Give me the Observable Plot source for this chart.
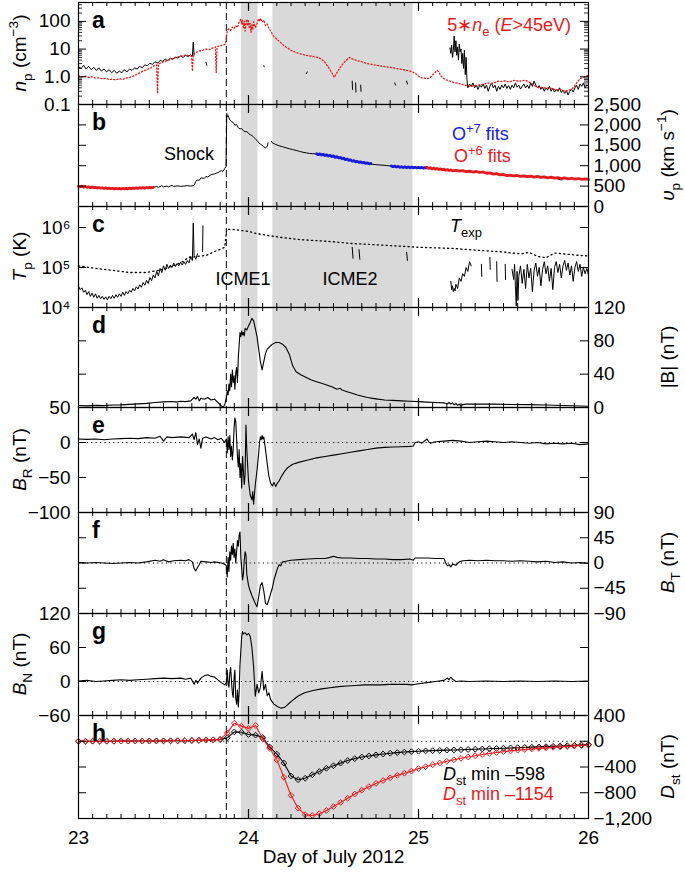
<!DOCTYPE html>
<html><head><meta charset="utf-8">
<script src="https://cdn.jsdelivr.net/npm/d3@7"></script>
<script src="https://cdn.jsdelivr.net/npm/@observablehq/plot@0.6"></script>
<style>
body{margin:0;background:#fff;}
#chart{width:685px;padding-top:2px;}
#chart svg{display:block;overflow:visible;}
</style></head><body><div id="chart"></div>
<script>
const FONT = "'Liberation Sans', Arial, Helvetica, sans-serif";
const RED = "#e8191c", BLUE = "#1a1adc";

// ---------- shared x info ----------
const xLabels = [23, 24, 25, 26];
const xTitle = "Day of July 2012";
const shades = [{a: 23.958, b: 24.056}, {a: 24.143, b: 24.968}];
const shockDay = [23.870];

// ---------- panel a: density ----------
const npBlack = [[23.00,2.3],[23.015,2.0],[23.03,2.6],[23.045,1.9],[23.06,2.4],[23.075,1.8],[23.09,2.2],[23.105,1.7],[23.12,2.1],[23.135,1.6],[23.15,1.9],[23.165,1.5],[23.18,1.8],[23.195,1.4],[23.21,1.7],[23.225,1.35],[23.24,1.6],[23.255,1.4],[23.27,1.8],[23.285,1.5],[23.30,1.9],[23.315,1.7],[23.33,2.1],[23.345,1.9],[23.36,2.4],[23.375,2.1],[23.39,2.7],[23.405,2.5],[23.42,3.1],[23.435,2.8],[23.45,3.5],[23.465,3.1],[23.48,3.9],[23.495,3.6],[23.51,4.3],[23.525,3.9],[23.54,4.7],[23.555,4.3],[23.57,5.1],[23.585,4.7],[23.60,5.6],[23.615,5.0],[23.63,5.9],[23.645,5.4],[23.66,6.2],[23.67,5.6],[23.675,18],[23.68,6.0],[23.69,NaN],
[23.75,3.3],[23.755,2.6],[23.76,NaN],[24.09,2.5],[24.092,2.3],[24.095,NaN],[24.34,1.3],[24.345,1.5],[24.35,NaN],
[24.61,0.7],[24.612,0.35],[24.615,NaN],[24.63,0.6],[24.632,0.28],[24.635,NaN],[24.66,0.5],[24.662,0.3],[24.665,NaN],
[24.86,0.6],[24.865,0.5],[24.87,NaN],[24.93,0.7],[24.935,0.55],[24.94,NaN],
[25.185,11],[25.19,7],[25.195,14],[25.20,5],[25.205,9],[25.21,30],[25.215,8],[25.22,20],[25.225,6],[25.23,12],[25.235,4],[25.24,15],[25.245,8],[25.25,10],[25.255,3],[25.26,7],[25.265,2],[25.27,9],[25.275,1.2],[25.28,5],[25.285,0.8],[25.29,0.4],[25.30,0.55],[25.31,0.45],[25.32,0.6],[25.33,0.4],[25.34,0.5],[25.35,0.35],[25.36,0.5],[25.37,0.42],[25.38,0.55],[25.39,0.38],[25.40,0.5],[25.41,0.3],[25.42,0.45],[25.43,0.6],[25.44,0.4],[25.45,0.5],[25.46,0.3],[25.47,0.45],[25.48,0.35],[25.49,0.5],[25.50,0.4],[25.51,0.55],[25.52,0.38],[25.53,0.48],[25.54,0.35],[25.55,0.5],[25.56,0.4],[25.57,0.6],[25.58,0.42],[25.59,0.5],[25.60,0.36],[25.61,0.45],[25.62,0.55],[25.63,0.4],[25.64,0.5],[25.65,0.38],[25.66,0.6],[25.67,0.45],[25.68,0.7],[25.69,0.5],[25.70,0.4],[25.71,0.48],[25.72,0.35],[25.73,0.42],[25.74,0.3],[25.75,0.4],[25.76,0.33],[25.77,0.45],[25.78,0.3],[25.79,0.38],[25.80,0.28],[25.81,0.35],[25.82,0.3],[25.83,0.4],[25.84,0.27],[25.85,0.33],[25.86,0.25],[25.87,0.32],[25.88,0.22],[25.89,0.3],[25.90,0.35],[25.91,0.28],[25.92,0.4],[25.93,0.5],[25.94,0.35],[25.95,0.55],[25.96,0.45],[25.97,0.6],[25.98,0.4],[25.99,0.5],[26.00,0.45]];
const neRed = [[23.00,1.1],[23.02,1.0],[23.04,1.05],[23.06,0.95],[23.08,1.0],[23.10,0.9],[23.12,0.92],[23.14,0.85],[23.16,0.88],[23.18,0.8],[23.20,0.82],[23.22,0.78],[23.24,0.85],[23.26,0.8],[23.28,0.9],[23.30,0.95],[23.32,1.05],[23.34,1.2],[23.36,1.4],[23.38,1.6],[23.40,1.8],[23.42,2.0],[23.44,2.4],[23.46,2.7],[23.465,0.25],[23.47,2.9],[23.49,3.3],[23.51,3.6],[23.53,4.0],[23.55,4.4],[23.57,4.9],[23.59,5.3],[23.61,5.7],[23.63,6.0],[23.65,5.8],[23.665,5.5],[23.67,1.6],[23.675,6.5],[23.69,7.5],[23.71,8.5],[23.73,9.0],[23.75,10],[23.77,9.5],[23.79,11],[23.805,12],[23.81,1.4],[23.815,12],[23.83,13],[23.85,14],[23.865,15],[23.875,45],[23.885,55],[23.895,48],[23.905,62],[23.915,55],[23.925,70],[23.935,60],[23.945,95],[23.955,120],[23.96,80],[23.965,110],[23.97,60],[23.975,100],[23.98,45],[23.985,90],[23.99,120],[23.995,70],[24.00,105],[24.005,55],[24.01,85],[24.015,40],[24.02,75],[24.025,50],[24.03,95],[24.04,60],[24.05,85],[24.06,125],[24.065,100],[24.07,130],[24.08,95],[24.09,110],[24.10,70],[24.11,80],[24.12,55],[24.13,45],[24.14,35],[24.15,28],[24.17,22],[24.19,17],[24.21,13],[24.23,11],[24.25,9],[24.27,8],[24.29,7.2],[24.31,6.6],[24.33,6.2],[24.35,5.8],[24.37,5.6],[24.39,5.2],[24.41,5.0],[24.43,4.3],[24.45,3.3],[24.47,2.2],[24.49,1.4],[24.505,0.95],[24.52,1.4],[24.54,2.2],[24.56,3.2],[24.58,4.2],[24.595,5.0],[24.61,4.4],[24.63,4.0],[24.65,3.7],[24.67,3.4],[24.69,3.1],[24.71,2.9],[24.73,2.8],[24.75,2.6],[24.77,2.5],[24.79,2.4],[24.81,2.3],[24.83,2.2],[24.85,2.1],[24.87,2.0],[24.89,1.9],[24.91,1.8],[24.93,1.7],[24.95,1.6],[24.97,1.45],[24.99,1.2],[25.01,0.95],[25.03,0.9],[25.05,0.85],[25.07,0.95],[25.09,1.3],[25.11,1.7],[25.12,1.5],[25.13,1.1],[25.15,0.85],[25.17,0.75],[25.19,0.68],[25.21,0.62],[25.23,0.58],[25.25,0.55],[25.27,0.5],[25.29,0.48],[25.31,0.45],[25.33,0.48],[25.35,0.5],[25.37,0.52],[25.39,0.55],[25.41,0.6],[25.43,0.58],[25.45,0.62],[25.47,0.7],[25.49,0.68],[25.51,0.72],[25.53,0.65],[25.55,0.7],[25.57,0.75],[25.59,0.68],[25.61,0.72],[25.63,0.75],[25.65,0.65],[25.67,0.55],[25.69,0.45],[25.71,0.4],[25.73,0.42],[25.75,0.38],[25.77,0.4],[25.79,0.36],[25.81,0.34],[25.83,0.35],[25.85,0.32],[25.87,0.3],[25.89,0.34],[25.91,0.4],[25.93,0.6],[25.95,0.85],[25.97,0.95],[26.00,1.15]];
const aTicks = [0.1, 1, 10, 100];
const aTickText = ["0.1", "1.0", "10", "100"];
const aMinor = [0.2,0.3,0.4,0.5,0.6,0.7,0.8,0.9,2,3,4,5,6,7,8,9,20,30,40,50,60,70,80,90,200,300,400];

// ---------- panel b: speed ----------
const vpBlack = [[23.00,490],[23.05,470],[23.10,460],[23.15,445],[23.20,440],[23.25,432],[23.30,440],[23.35,450],[23.40,462],[23.44,470],[23.46,490],[23.47,470],[23.49,510],[23.50,480],[23.52,500],[23.53,480],[23.55,520],[23.56,490],[23.58,505],[23.60,495],[23.62,500],[23.64,510],[23.66,500],[23.68,520],[23.69,620],[23.70,650],[23.71,640],[23.72,700],[23.74,690],[23.75,740],[23.76,720],[23.78,780],[23.80,800],[23.82,830],[23.84,880],[23.85,860],[23.86,930],[23.868,980],[23.872,2280],[23.875,2200],[23.88,2230],[23.89,2120],[23.90,2080],[23.91,2060],[23.92,1990],[23.93,2010],[23.94,1930],[23.95,1900],[23.96,1910],[23.97,1860],[23.98,1830],[23.99,1840],[24.00,1790],[24.01,1760],[24.02,1740],[24.03,1700],[24.04,1660],[24.05,1620],[24.06,1560],[24.07,1530],[24.08,1500],[24.09,1460],[24.10,1440],[24.11,1470],[24.115,1560],[24.12,NaN],[24.135,1600],[24.14,1560],[24.16,1520],[24.18,1490],[24.20,1465],[24.22,1440],[24.24,1415],[24.26,1395],[24.28,1375],[24.30,1350],[24.32,1330],[24.34,1315],[24.36,1300],[24.38,1295],[24.40,1285],[24.45,1255],[24.50,1225],[24.55,1175],[24.60,1130],[24.65,1090],[24.70,1055],[24.72,1040],[24.75,1025],[24.78,1015],[24.81,1005],[24.84,990],[24.90,965],[24.95,955],[25.00,950],[25.05,945],[25.10,915],[25.15,900],[25.20,880],[25.25,860],[25.30,850],[25.35,840],[25.40,825],[25.45,790],[25.50,765],[25.55,750],[25.60,740],[25.65,730],[25.70,720],[25.75,705],[25.80,700],[25.84,650],[25.85,690],[25.90,685],[25.95,670],[26.00,662]];
const o6Fits = [[23.00,495],[23.01,480],[23.02,500],[23.03,475],[23.04,490],[23.05,470],[23.06,485],[23.07,462],[23.08,478],[23.09,458],[23.10,470],[23.11,452],[23.12,466],[23.13,448],[23.14,460],[23.15,442],[23.16,456],[23.17,440],[23.18,452],[23.19,436],[23.20,448],[23.21,432],[23.22,446],[23.23,430],[23.24,444],[23.25,428],[23.26,442],[23.27,430],[23.28,446],[23.29,434],[23.30,450],[23.31,438],[23.32,452],[23.33,442],[23.34,456],[23.35,446],[23.36,460],[23.37,450],[23.38,462],[23.39,452],[23.40,466],[23.41,455],[23.42,468],[23.43,458],[23.44,470],[23.445,NaN],
[25.05,960],[25.06,935],[25.07,950],[25.08,925],[25.09,940],[25.10,915],[25.11,932],[25.12,905],[25.13,922],[25.14,898],[25.15,915],[25.16,890],[25.17,905],[25.18,882],[25.19,898],[25.20,875],[25.22,888],[25.24,865],[25.26,878],[25.28,855],[25.30,868],[25.32,845],[25.34,858],[25.36,835],[25.38,845],[25.40,815],[25.42,825],[25.44,795],[25.46,805],[25.48,775],[25.50,785],[25.52,758],[25.54,770],[25.56,748],[25.58,760],[25.60,738],[25.62,752],[25.64,730],[25.66,745],[25.68,722],[25.70,738],[25.72,712],[25.74,726],[25.76,702],[25.78,718],[25.80,695],[25.82,708],[25.84,686],[25.86,700],[25.88,678],[25.90,692],[25.92,670],[25.94,686],[25.96,666],[25.98,678],[26.00,664]];
const o7Fits = [[24.40,1295],[24.41,1270],[24.42,1290],[24.43,1262],[24.44,1280],[24.45,1250],[24.46,1268],[24.47,1238],[24.48,1255],[24.49,1222],[24.50,1240],[24.51,1205],[24.52,1222],[24.53,1188],[24.54,1205],[24.55,1170],[24.56,1185],[24.57,1150],[24.58,1165],[24.59,1130],[24.60,1145],[24.61,1110],[24.62,1125],[24.63,1095],[24.64,1108],[24.65,1080],[24.66,1095],[24.67,1068],[24.68,1080],[24.69,1055],[24.70,1068],[24.71,1045],[24.72,1055],[24.725,NaN],[24.84,995],[24.85,975],[24.86,990],[24.87,968],[24.88,982],[24.89,960],[24.90,975],[24.91,955],[24.92,972],[24.93,952],[24.94,968],[24.95,950],[24.96,966],[24.97,948],[24.98,962],[24.99,945],[25.00,960],[25.01,942],[25.02,958],[25.03,940],[25.04,955],[25.05,945]];
const bTicks = [0, 500, 1000, 1500, 2000, 2500];

// ---------- panel c: temperature ----------
const tpBlack = [[23.00,34000],[23.01,28000],[23.02,31000],[23.03,24000],[23.04,27000],[23.05,21000],[23.06,25000],[23.07,19000],[23.08,23000],[23.09,18000],[23.10,22000],[23.11,17000],[23.12,20000],[23.13,16500],[23.14,19000],[23.15,16000],[23.16,18500],[23.17,15500],[23.18,19000],[23.19,16500],[23.20,20000],[23.21,17000],[23.22,21000],[23.23,18000],[23.24,22000],[23.25,19000],[23.26,24000],[23.27,20000],[23.28,25000],[23.29,22000],[23.30,27000],[23.31,24000],[23.32,30000],[23.33,26000],[23.34,33000],[23.35,29000],[23.36,37000],[23.37,32000],[23.38,42000],[23.39,36000],[23.40,48000],[23.41,40000],[23.42,56000],[23.43,47000],[23.44,65000],[23.45,55000],[23.46,80000],[23.47,62000],[23.48,95000],[23.49,75000],[23.50,110000],[23.51,85000],[23.52,120000],[23.53,95000],[23.54,115000],[23.55,100000],[23.56,130000],[23.57,105000],[23.58,125000],[23.59,110000],[23.60,135000],[23.61,115000],[23.62,140000],[23.63,120000],[23.64,150000],[23.65,130000],[23.66,190000],[23.67,150000],[23.675,1300000],[23.68,200000],[23.69,160000],[23.70,220000],[23.705,NaN],[23.73,250000],[23.732,1100000],[23.735,NaN],
[24.61,320000],[24.615,170000],[24.62,NaN],[24.65,280000],[24.655,160000],[24.66,NaN],[24.93,240000],[24.935,150000],[24.94,NaN],
[25.19,45000],[25.195,28000],[25.20,35000],[25.205,25000],[25.21,30000],[25.215,26000],[25.22,38000],[25.23,30000],[25.24,55000],[25.25,45000],[25.26,70000],[25.27,60000],[25.28,100000],[25.29,80000],[25.30,140000],[25.31,110000],[25.315,NaN],
[25.37,120000],[25.372,60000],[25.375,NaN],[25.42,180000],[25.422,90000],[25.425,NaN],[25.46,140000],[25.462,45000],[25.465,NaN],[25.51,120000],[25.512,50000],[25.515,NaN],
[25.55,90000],[25.56,50000],[25.565,120000],[25.57,35000],[25.575,11000],[25.58,80000],[25.585,15000],[25.59,60000],[25.60,110000],[25.61,40000],[25.62,90000],[25.63,30000],[25.64,120000],[25.65,55000],[25.66,95000],[25.67,25000],[25.68,85000],[25.69,130000],[25.70,60000],[25.71,100000],[25.72,35000],[25.73,90000],[25.74,140000],[25.75,70000],[25.76,110000],[25.77,45000],[25.78,95000],[25.79,28000],[25.80,100000],[25.81,140000],[25.82,75000],[25.83,120000],[25.84,55000],[25.85,110000],[25.86,150000],[25.87,85000],[25.88,130000],[25.89,65000],[25.90,110000],[25.91,45000],[25.92,100000],[25.93,140000],[25.94,80000],[25.95,120000],[25.96,60000],[25.97,100000],[25.98,70000],[25.99,95000],[26.00,65000]];
const tExp = [[23.00,110000],[23.10,95000],[23.20,85000],[23.30,75000],[23.40,75000],[23.50,90000],[23.60,130000],[23.65,180000],[23.70,190000],[23.75,200000],[23.80,250000],[23.86,320000],[23.872,900000],[23.90,900000],[23.95,850000],[24.00,800000],[24.05,700000],[24.10,650000],[24.15,600000],[24.20,560000],[24.30,500000],[24.40,470000],[24.50,440000],[24.60,400000],[24.70,380000],[24.80,360000],[24.90,340000],[25.00,320000],[25.10,310000],[25.20,300000],[25.30,280000],[25.40,260000],[25.50,245000],[25.55,230000],[25.60,220000],[25.65,240000],[25.70,190000],[25.75,175000],[25.80,230000],[25.85,220000],[25.90,210000],[25.95,200000],[26.00,195000]];
const cTicks = [1e4, 1e5, 1e6];
const cTickText = ["10\u2074", "10\u2075", "10\u2076"];

// ---------- panel d: |B| ----------
const bMag = [[23.00,2.4],[23.05,2.0],[23.10,2.5],[23.15,2.2],[23.20,3.0],[23.25,3.2],[23.30,3.8],[23.35,4.4],[23.40,5.0],[23.45,6.0],[23.50,6.8],[23.55,7.2],[23.58,6.5],[23.60,7.5],[23.63,7.0],[23.66,8.0],[23.68,12],[23.69,10],[23.70,13],[23.71,8],[23.72,11],[23.74,10],[23.76,12],[23.78,9],[23.80,10],[23.82,6],[23.84,2],[23.85,0.5],[23.86,3],[23.87,12],[23.875,20],[23.88,15],[23.885,28],[23.89,20],[23.895,40],[23.90,25],[23.905,45],[23.91,30],[23.915,38],[23.92,22],[23.925,42],[23.93,48],[23.935,30],[23.94,60],[23.945,75],[23.95,90],[23.955,85],[23.96,92],[23.965,87],[23.97,90],[23.975,86],[23.98,95],[23.99,93],[24.00,98],[24.01,102],[24.02,107],[24.03,104],[24.04,95],[24.05,85],[24.06,70],[24.07,55],[24.08,45],[24.09,55],[24.10,65],[24.11,70],[24.12,72],[24.14,76],[24.16,78],[24.18,78],[24.20,76],[24.22,72],[24.24,64],[24.26,50],[24.28,43],[24.31,39],[24.34,36],[24.37,33],[24.40,31],[24.43,29],[24.46,27],[24.49,25],[24.52,22],[24.54,23],[24.55,21],[24.58,19],[24.61,17],[24.64,15],[24.67,13.5],[24.70,12],[24.73,11],[24.76,10],[24.80,9],[24.85,8.5],[24.90,8],[24.95,7.5],[25.00,7],[25.05,6.5],[25.10,6],[25.15,5.5],[25.17,4.5],[25.18,6],[25.19,4],[25.20,5.5],[25.21,3],[25.22,5],[25.23,2.5],[25.24,4],[25.25,1.5],[25.26,3.5],[25.28,4],[25.35,4.2],[25.45,4.0],[25.55,3.6],[25.65,3.4],[25.75,3.0],[25.85,2.4],[25.95,1.8],[26.00,1.5]];
const dTicks = [0, 40, 80, 120];

// ---------- panel e: B_R ----------
const bR = [[23.00,5],[23.05,4.5],[23.10,5],[23.15,4],[23.20,5],[23.25,5.5],[23.30,6],[23.35,5.5],[23.40,7],[23.45,6],[23.48,9],[23.50,2],[23.52,8],[23.55,7],[23.60,8],[23.65,7],[23.67,12],[23.68,4],[23.69,14],[23.70,-3],[23.71,5],[23.72,-8],[23.73,6],[23.75,8],[23.78,5],[23.80,7],[23.82,4],[23.84,6],[23.86,0],[23.87,5],[23.875,-15],[23.88,8],[23.885,-10],[23.89,10],[23.895,-20],[23.90,-5],[23.905,-25],[23.91,-10],[23.915,20],[23.92,35],[23.925,30],[23.93,5],[23.935,-20],[23.94,-35],[23.945,-10],[23.95,-50],[23.955,-30],[23.96,-65],[23.965,-20],[23.97,-40],[23.975,-60],[23.98,-45],[23.985,25],[23.99,-10],[24.00,-55],[24.01,-75],[24.02,-82],[24.025,-70],[24.03,-88],[24.04,-60],[24.05,-40],[24.06,-15],[24.065,0],[24.07,8],[24.075,4],[24.08,10],[24.085,5],[24.09,8],[24.10,-10],[24.11,-30],[24.12,-48],[24.13,-58],[24.14,-62],[24.15,-57],[24.16,-63],[24.17,-58],[24.18,-55],[24.19,-50],[24.21,-42],[24.23,-36],[24.26,-31],[24.30,-28],[24.35,-25],[24.40,-22],[24.45,-20],[24.50,-18],[24.55,-16],[24.60,-14],[24.65,-12],[24.70,-10],[24.75,-8],[24.80,-7],[24.85,-6.5],[24.90,-6],[24.95,-5.5],[24.97,-5],[24.98,0],[25.00,1],[25.02,-1],[25.05,5],[25.06,1],[25.07,-1],[25.10,1],[25.15,2],[25.20,3],[25.25,2],[25.30,0],[25.35,1],[25.40,2],[25.45,1],[25.50,0],[25.55,1],[25.60,0],[25.65,-1],[25.70,0],[25.75,-2],[25.80,-1],[25.85,-2],[25.90,-1],[25.95,-3],[26.00,-2]];
const eTicks = [-100, -50, 0, 50];

// ---------- panel f: B_T ----------
const bT = [[23.00,1],[23.05,0],[23.10,1],[23.15,0],[23.20,-1],[23.25,0],[23.30,1],[23.35,0],[23.40,2],[23.45,5],[23.48,3],[23.50,6],[23.53,2],[23.56,4],[23.60,5],[23.63,4],[23.65,6],[23.67,2],[23.68,-10],[23.69,-14],[23.70,-8],[23.71,-3],[23.72,3],[23.75,2],[23.78,1],[23.80,2],[23.84,0],[23.86,-2],[23.87,-5],[23.875,-25],[23.88,10],[23.885,-15],[23.89,20],[23.895,5],[23.90,30],[23.905,15],[23.91,35],[23.915,10],[23.92,25],[23.925,0],[23.93,20],[23.935,40],[23.94,30],[23.945,50],[23.95,55],[23.955,10],[23.96,-10],[23.965,-30],[23.97,-20],[23.975,5],[23.98,20],[23.985,15],[23.99,-20],[24.00,-40],[24.01,-50],[24.02,-58],[24.03,-65],[24.04,-72],[24.05,-78],[24.06,-60],[24.07,-40],[24.08,-35],[24.09,-50],[24.10,-72],[24.11,-74],[24.12,-65],[24.13,-55],[24.14,-45],[24.15,-30],[24.16,-20],[24.17,-10],[24.18,-3],[24.19,-5],[24.20,2],[24.22,3],[24.25,5],[24.30,6],[24.35,7],[24.40,8],[24.45,8],[24.48,10],[24.50,12],[24.52,10],[24.55,9],[24.60,9],[24.65,8],[24.70,8],[24.75,7],[24.80,7],[24.85,6],[24.90,6],[24.95,7],[24.97,5],[24.98,9],[25.00,9],[25.05,9],[25.10,8],[25.15,8],[25.16,0],[25.17,-5],[25.18,-3],[25.19,-7],[25.20,-2],[25.22,-4],[25.24,2],[25.26,4],[25.30,5],[25.35,4],[25.40,5],[25.45,4],[25.50,4],[25.55,3],[25.60,4],[25.65,3],[25.70,2],[25.75,3],[25.80,1],[25.85,2],[25.90,0],[25.95,1],[26.00,-1]];
const fTicks = [-90, -45, 0, 45, 90];

// ---------- panel g: B_N ----------
const bN = [[23.00,1],[23.05,2],[23.10,0],[23.15,1],[23.20,2],[23.25,3],[23.30,2],[23.35,3],[23.40,4],[23.45,5],[23.50,6],[23.55,5],[23.60,6],[23.63,4],[23.66,6],[23.68,-5],[23.69,2],[23.70,-3],[23.72,6],[23.74,10],[23.76,12],[23.78,9],[23.80,8],[23.82,3],[23.84,-2],[23.86,-6],[23.87,-2],[23.875,20],[23.88,-5],[23.885,-10],[23.89,15],[23.895,25],[23.90,0],[23.905,-20],[23.91,-28],[23.915,5],[23.92,20],[23.925,-30],[23.93,-40],[23.935,-15],[23.94,-45],[23.945,-20],[23.95,30],[23.96,79],[23.965,88],[23.97,84],[23.98,86],[23.99,82],[24.00,85],[24.01,80],[24.02,60],[24.03,26],[24.04,-26],[24.05,-5],[24.06,-20],[24.07,-10],[24.08,18],[24.09,-15],[24.10,-5],[24.11,-25],[24.12,-20],[24.13,-32],[24.15,-40],[24.17,-44],[24.19,-47],[24.21,-46],[24.23,-41],[24.26,-33],[24.29,-26],[24.33,-20],[24.38,-16],[24.43,-13],[24.48,-11],[24.53,-9],[24.58,-8],[24.63,-7],[24.68,-6],[24.73,-6],[24.78,-6],[24.83,-5],[24.88,-5],[24.93,-5],[24.96,-6],[25.00,-4],[25.05,-2],[25.10,0],[25.15,2],[25.17,6],[25.18,3],[25.19,8],[25.20,4],[25.22,0],[25.25,1],[25.30,0],[25.40,1],[25.50,0],[25.60,1],[25.70,0],[25.80,1],[25.90,0],[26.00,1]];
const gTicks = [-60, 0, 60, 120];

// ---------- panel h: Dst (hourly, from 23 July 00 UT) ----------
const dstBlack = [0,0,1,0,1,1,2,2,3,3,4,5,6,7,8,10,12,15,18,22,28,55,145,140,105,95,60,-90,-200,-340,-540,-598,-575,-520,-470,-420,-380,-340,-300,-270,-245,-228,-212,-198,-186,-176,-168,-161,-155,-150,-146,-142,-138,-135,-132,-128,-124,-120,-116,-112,-108,-104,-100,-96,-92,-88,-84,-79,-74,-69,-63,-57,-52];
const dstRed = [0,0,1,0,1,1,2,2,3,3,4,5,6,7,8,10,12,15,18,22,28,130,280,235,200,245,40,-110,-290,-560,-840,-1040,-1140,-1154,-1125,-1075,-1015,-950,-885,-820,-760,-705,-655,-610,-568,-530,-496,-464,-425,-395,-365,-338,-312,-288,-265,-244,-225,-207,-191,-176,-162,-150,-139,-129,-120,-111,-103,-95,-88,-81,-74,-67,-60];
const hTicks = [-1200, -800, -400, 0, 400];

// ---------- helpers ----------
const W = 510;
const X_MINOR = d3.range(1, 36).filter(k => k % 12 !== 0).map(k => 23 + k / 12);
const X_MAJOR = [24, 25];
const fmtComma = d3.format(",");
const toRows = arr => arr.map(([d, v]) => ({d, v}));

function rich(svg, x, y, parts, o = {}) {
  const size = o.size || 18;
  const t = d3.select(svg).append("text")
    .attr("transform", `translate(${x},${y})` + (o.rotate ? ` rotate(${o.rotate})` : ""))
    .attr("text-anchor", o.anchor || "start")
    .attr("font-family", FONT).attr("font-size", size)
    .attr("font-weight", o.weight || "normal")
    .attr("fill", o.fill || "black")
    .style("white-space", "pre");
  let cur = 0;
  for (const [s, st = ""] of parts) {
    const ts = t.append("tspan").text(s);
    let target = 0, fs = size;
    if (st.includes("_")) { target = 0.3 * size; fs = 0.72 * size; }
    if (st.includes("^")) { target = -0.4 * size; fs = 0.72 * size; }
    if (target !== cur) ts.attr("dy", target - cur);
    cur = target;
    if (fs !== size) ts.attr("font-size", fs);
    if (st.includes("i")) ts.attr("font-style", "italic");
  }
}

function panel(p) {
  const mb = p.bottom ? 55 : 0;
  const h = p.h;
  const marks = [
    Plot.rect(shades, {x1: "a", x2: "b", fill: "#d9d9d9"}),
    ...(p.zero ? [Plot.ruleY([0], {stroke: "black", strokeWidth: 1, strokeDasharray: "1.2,3.2"})] : []),
    Plot.ruleX(shockDay, {x: d => d, stroke: "#333", strokeWidth: 1.2, strokeDasharray: "7,4"}),
    ...p.marks,
    Plot.frame({stroke: "black", strokeWidth: 1.2}),
    Plot.tickX(X_MINOR, {x: d => d, insetTop: h - 4, strokeWidth: 1}),
    Plot.tickX(X_MINOR, {x: d => d, insetBottom: h - 4, strokeWidth: 1}),
    Plot.tickX(X_MAJOR, {x: d => d, insetTop: h - 9, strokeWidth: 1.2}),
    Plot.tickX(X_MAJOR, {x: d => d, insetBottom: h - 9, strokeWidth: 1.2}),
    Plot.tickY(p.inner, {y: d => d, insetRight: W - 8, strokeWidth: 1}),
    Plot.tickY(p.inner, {y: d => d, insetLeft: W - 8, strokeWidth: 1}),
    ...(p.minor ? [Plot.tickY(p.minor, {y: d => d, insetRight: W - 4, strokeWidth: 0.8}),
                   Plot.tickY(p.minor, {y: d => d, insetLeft: W - 4, strokeWidth: 0.8})] : []),
    Plot.axisY(p.labels, {anchor: p.side, tickSize: 0, tickPadding: p.side === "left" ? 8 : 5, tickFormat: p.fmt, label: null})
  ];
  if (p.bottom) {
    marks.push(Plot.axisX(xLabels, {anchor: "bottom", tickSize: 0, tickPadding: 12, tickFormat: d => String(d), label: null}));
    marks.push(Plot.text([xTitle], {text: d => d, frameAnchor: "bottom", dy: 44, fontSize: 19, textAnchor: "middle"}));
  }
  const svg = Plot.plot({
    width: 685, height: h + mb,
    marginLeft: 78, marginRight: 97, marginTop: 0, marginBottom: mb,
    x: {domain: [23, 26], ...(p.bottom ? {} : {axis: null})},
    y: p.y,
    style: {fontFamily: FONT, fontSize: "19px", overflow: "visible", background: "transparent", color: "black"},
    marks
  });
  document.getElementById("chart").appendChild(svg);
  rich(svg, 92, 26, [[p.letter]], {size: 23, weight: "bold"});
  const tx = p.side === "left" ? 26 : 674;
  rich(svg, tx, h / 2, p.title, {size: 19, rotate: -90, anchor: "middle"});
  return svg;
}

const line = (arr, o) => Plot.line(toRows(arr), {x: "d", y: "v", ...o});

// a
const sa = panel({letter: "a", h: 102, y: {type: "log", domain: [0.1, 480]}, side: "left",
  labels: aTicks, fmt: d => aTickText[aTicks.indexOf(d)], inner: [1, 10, 100], minor: aMinor,
  title: [["n", "i"], ["p", "_"], [" (cm"], ["\u22123", "^"], [")"]],
  marks: [
    line(npBlack, {stroke: "black", strokeWidth: 1}),
    line(neRed, {stroke: RED, strokeWidth: 1.3, strokeDasharray: "1.1,2.2"})
  ]});
rich(sa, 571, 29, [["5\u2217"], ["n", "i"], ["e", "_"], [" ("], ["E", "i"], [">45eV)"]], {size: 18, anchor: "end", fill: RED});

// b
const sb = panel({letter: "b", h: 102, y: {domain: [0, 2500]}, side: "right",
  labels: bTicks, fmt: d => fmtComma(d), inner: [500, 1000, 1500, 2000],
  title: [["\u03c5", "i"], ["p", "_"], [" (km s"], ["\u22121", "^"], [")"]],
  marks: [
    line(vpBlack, {stroke: "black", strokeWidth: 1}),
    line(o7Fits, {stroke: BLUE, strokeWidth: 2.8}),
    line(o6Fits, {stroke: RED, strokeWidth: 2.8})
  ]});
rich(sb, 214, 56, [["Shock"]], {size: 18, anchor: "end"});
rich(sb, 452, 36, [["O"], ["+7", "^"], [" fits"]], {size: 18, fill: BLUE});
rich(sb, 454, 58, [["O"], ["+6", "^"], [" fits"]], {size: 18, fill: RED});

// c
const sc = panel({letter: "c", h: 101, y: {type: "log", domain: [1e4, 3.35e6]}, side: "left",
  labels: cTicks, fmt: d => cTickText[cTicks.indexOf(d)], inner: [1e5, 1e6],
  title: [["T", "i"], ["p", "_"], [" (K)"]],
  marks: [
    line(tExp, {stroke: "black", strokeWidth: 1.3, strokeDasharray: "1.2,3.2"}),
    line(tpBlack, {stroke: "black", strokeWidth: 1})
  ]});
rich(sc, 450, 26, [["T", "i"], ["exp", "_"]], {size: 18});
rich(sc, 243, 79, [["ICME1"]], {size: 18, anchor: "middle"});
rich(sc, 350, 79, [["ICME2"]], {size: 18, anchor: "middle"});

// d
panel({letter: "d", h: 100, y: {domain: [0, 120]}, side: "right",
  labels: dTicks, fmt: d => String(d), inner: [40, 80],
  title: [["|B| (nT)"]],
  marks: [line(bMag, {stroke: "black", strokeWidth: 1.1})]});

// e
panel({letter: "e", h: 105, y: {domain: [-100, 50]}, side: "left", zero: true,
  labels: eTicks, fmt: d => fmtComma(d), inner: [-50, 0],
  title: [["B", "i"], ["R", "_"], [" (nT)"]],
  marks: [line(bR, {stroke: "black", strokeWidth: 1.1})]});

// f
panel({letter: "f", h: 101, y: {domain: [-90, 90]}, side: "right", zero: true,
  labels: fTicks, fmt: d => fmtComma(d), inner: [-45, 0, 45],
  title: [["B", "i"], ["T", "_"], [" (nT)"]],
  marks: [line(bT, {stroke: "black", strokeWidth: 1.1})]});

// g
panel({letter: "g", h: 102, y: {domain: [-60, 120]}, side: "left", zero: true,
  labels: gTicks, fmt: d => fmtComma(d), inner: [0, 60],
  title: [["B", "i"], ["N", "_"], [" (nT)"]],
  marks: [line(bN, {stroke: "black", strokeWidth: 1.1})]});

// h
const dstB = dstBlack.map((v, i) => ({d: 23 + i / 24, v}));
const dstR = dstRed.map((v, i) => ({d: 23 + i / 24, v}));
const sh = panel({letter: "h", h: 103, y: {domain: [-1200, 400]}, side: "right", zero: true, bottom: true,
  labels: hTicks, fmt: d => fmtComma(d), inner: [-800, -400, 0],
  title: [["D", "i"], ["st", "_"], [" (nT)"]],
  marks: [
    Plot.line(dstB, {x: "d", y: "v", stroke: "black", strokeWidth: 1.1}),
    Plot.dot(dstB, {x: "d", y: "v", symbol: "diamond2", r: 2.6, stroke: "black", fill: "none", strokeWidth: 1}),
    Plot.line(dstR, {x: "d", y: "v", stroke: RED, strokeWidth: 1.1}),
    Plot.dot(dstR, {x: "d", y: "v", symbol: "diamond2", r: 2.6, stroke: RED, fill: "none", strokeWidth: 1})
  ]});
rich(sh, 443, 65, [["D", "i"], ["st", "_"], [" min \u2013598"]], {size: 18});
rich(sh, 443, 85, [["D", "i"], ["st", "_"], [" min \u20131154"]], {size: 18, fill: RED});
</script>
</body></html>
